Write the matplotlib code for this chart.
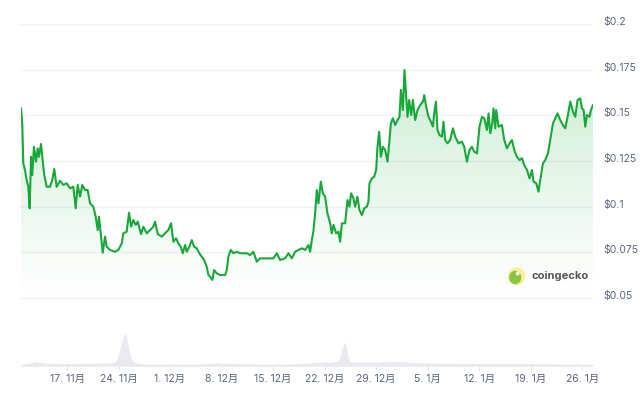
import numpy as np
import pandas as pd
import matplotlib
matplotlib.use('Agg')
import matplotlib.pyplot as plt
import matplotlib.dates as mdates
from matplotlib.patches import Ellipse
from matplotlib.transforms import ScaledTranslation

plt.rcParams['font.family'] = ['Inter', 'Noto Sans CJK JP', 'DejaVu Sans']

# ---------------- data ----------------
ref_date = pd.Timestamp('2024-11-17')

price_days = [
    -6.25, -6.08, -5.94, -5.71, -5.48, -5.26, -5.07, -4.89, -4.72, -4.49,
    -4.21, -3.98, -3.81, -3.53, -3.36, -3.09, -2.76, -2.31, -2.00, -1.73,
    -1.40, -0.95, -0.50, -0.04, 0.41, 0.86, 1.18, 1.45, 1.77, 2.08,
    2.45, 2.81, 3.13, 3.57, 3.90, 4.17, 4.35, 4.62, 4.85, 5.17,
    5.40, 5.84, 6.52, 6.97, 7.44, 7.65, 8.11, 8.43, 8.70, 9.01,
    9.34, 9.61, 10.06, 10.37, 10.83, 11.28, 11.73, 11.96, 12.33, 12.87,
    13.32, 13.77, 14.14, 14.45, 14.82, 15.13, 15.45, 15.73, 16.04, 16.27,
    16.62, 16.95, 17.26, 17.63, 17.98, 18.31, 18.62, 18.99, 19.21, 19.44,
    19.75, 19.98, 20.35, 20.80, 21.48, 21.71, 21.92, 22.25, 22.60, 23.07,
    23.52, 23.96, 24.43, 24.87, 25.32, 25.78, 26.23, 27.14, 28.04, 28.50,
    28.95, 29.63, 30.08, 30.54, 30.99, 31.44, 31.90, 32.35, 32.80, 33.03,
    33.26, 33.48, 33.71, 33.94, 34.16, 34.48, 34.76, 35.07, 35.38, 35.75,
    35.98, 36.20, 36.56, 36.88, 37.11, 37.34, 37.79, 38.10, 38.37, 38.60,
    38.92, 39.15, 39.46, 39.73, 40.06, 40.37, 40.74, 40.95, 41.09, 41.42,
    41.73, 42.00, 42.18, 42.41, 42.64, 42.91, 43.22, 43.54, 43.81, 44.00,
    44.27, 44.58, 44.90, 45.17, 45.36, 45.63, 45.85, 46.08, 46.26, 46.49,
    46.76, 46.99, 47.30, 47.62, 47.98, 48.35, 48.53, 48.80, 49.11, 49.44,
    49.71, 49.88, 50.12, 50.33, 50.61, 50.93, 51.15, 51.38, 51.69, 52.06,
    52.43, 52.74, 53.19, 53.65, 53.96, 54.33, 54.68, 55.01, 55.32, 55.69,
    56.04, 56.37, 56.68, 57.05, 57.27, 57.50, 57.77, 57.95, 58.18, 58.31,
    58.63, 59.09, 59.40, 59.77, 60.12, 60.45, 60.76, 61.13, 61.48, 61.81,
    62.12, 62.49, 62.84, 63.17, 63.38, 63.75, 64.06, 64.29, 64.66, 64.97,
    65.34, 65.65, 66.02, 66.33, 66.64, 67.01, 67.38, 67.69, 68.01, 68.37,
    68.74, 69.05, 69.36, 69.73, 69.96, 70.18, 70.41, 70.64, 70.99, 71.18,
    71.46,
]

price_values = [
    0.1538, 0.1458, 0.1239, 0.1201, 0.1146, 0.1109, 0.0991, 0.1273, 0.1173, 0.1328,
    0.1246, 0.1319, 0.1273, 0.1343, 0.1273, 0.1173, 0.1109, 0.1109, 0.1146, 0.1206,
    0.1109, 0.1142, 0.1119, 0.1128, 0.1100, 0.1109, 0.0991, 0.1119, 0.1055, 0.1119,
    0.1091, 0.1091, 0.1018, 0.1000, 0.0945, 0.0872, 0.0945, 0.0836, 0.0748, 0.0836,
    0.0781, 0.0763, 0.0753, 0.0763, 0.0799, 0.0854, 0.0863, 0.0967, 0.0890, 0.0927,
    0.0900, 0.0918, 0.0850, 0.0890, 0.0854, 0.0872, 0.0890, 0.0918, 0.0850, 0.0836,
    0.0854, 0.0872, 0.0909, 0.0808, 0.0827, 0.0799, 0.0781, 0.0745, 0.0790, 0.0753,
    0.0781, 0.0817, 0.0781, 0.0772, 0.0745, 0.0726, 0.0708, 0.0671, 0.0626, 0.0617,
    0.0599, 0.0653, 0.0635, 0.0626, 0.0626, 0.0653, 0.0726, 0.0763, 0.0745, 0.0753,
    0.0745, 0.0745, 0.0745, 0.0735, 0.0753, 0.0699, 0.0717, 0.0717, 0.0717, 0.0745,
    0.0708, 0.0717, 0.0745, 0.0717, 0.0753, 0.0763, 0.0772, 0.0763, 0.0790, 0.0753,
    0.0817, 0.0867, 0.0964, 0.1091, 0.1018, 0.1137, 0.1073, 0.1055, 0.0964, 0.0909,
    0.0854, 0.0900, 0.0854, 0.0863, 0.0808, 0.0909, 0.0909, 0.1036, 0.1000, 0.1073,
    0.1046, 0.1000, 0.1055, 0.0982, 0.0954, 0.0991, 0.1000, 0.1027, 0.1128, 0.1155,
    0.1164, 0.1201, 0.1328, 0.1410, 0.1273, 0.1328, 0.1310, 0.1246, 0.1365, 0.1456,
    0.1484, 0.1447, 0.1474, 0.1492, 0.1639, 0.1529, 0.1748, 0.1602, 0.1492, 0.1584,
    0.1502, 0.1584, 0.1474, 0.1529, 0.1556, 0.1575, 0.1611, 0.1547, 0.1492, 0.1465,
    0.1438, 0.1511, 0.1575, 0.1420, 0.1392, 0.1383, 0.1465, 0.1365, 0.1347, 0.1365,
    0.1429, 0.1383, 0.1347, 0.1356, 0.1328, 0.1246, 0.1310, 0.1328, 0.1301, 0.1292,
    0.1438, 0.1492, 0.1484, 0.1420, 0.1511, 0.1402, 0.1456, 0.1538, 0.1429, 0.1529,
    0.1438, 0.1447, 0.1365, 0.1319, 0.1347, 0.1365, 0.1310, 0.1273, 0.1255, 0.1265,
    0.1228, 0.1201, 0.1155, 0.1201, 0.1137, 0.1128, 0.1082, 0.1146, 0.1237, 0.1255,
    0.1292, 0.1365, 0.1456, 0.1484, 0.1511, 0.1474, 0.1447, 0.1429, 0.1492, 0.1575,
    0.1520, 0.1492, 0.1584, 0.1593, 0.1538, 0.1529, 0.1438, 0.1502, 0.1492, 0.1529,
    0.1556,
]

volume_days = [
    -6.25, -5.03, -4.20, -3.00, -0.95, 1.77, 4.49, 5.84, 6.52, 6.80,
    7.07, 7.34, 7.61, 7.88, 8.09, 8.29, 8.56, 8.84, 9.38, 10.60,
    12.64, 18.08, 20.12, 22.16, 26.23, 30.31, 33.03, 34.39, 35.75, 36.84,
    37.11, 37.38, 37.65, 37.93, 38.20, 38.47, 39.83, 42.54, 45.26, 46.60,
    49.34, 53.42, 58.86, 63.04, 67.01, 71.46,
]
volume_values = [  # millions USD (approx.)
    2.0, 3.0, 4.5, 3.0, 2.5, 2.5, 3.0, 3.0, 4.0, 7.0,
    14.0, 22.0, 28.0, 33.0, 29.0, 22.0, 12.0, 5.0, 3.0, 2.0,
    2.0, 2.0, 3.0, 2.5, 2.0, 2.0, 3.0, 4.0, 3.5, 5.0,
    9.0, 17.0, 24.0, 20.0, 9.0, 4.0, 4.0, 4.0, 4.5, 3.5,
    3.0, 2.5, 2.5, 2.5, 2.0, 2.0,
]

tick_days = [0, 7, 14, 21, 28, 35, 42, 49, 56, 63, 70]
tick_labels = ['17. 11月', '24. 11月', '1. 12月', '8. 12月', '15. 12月', '22. 12月',
               '29. 12月', '5. 1月', '12. 1月', '19. 1月', '26. 1月']
y_ticks = [0.05, 0.075, 0.1, 0.125, 0.15, 0.175, 0.2]
y_tick_labels = ['$0.05', '$0.075', '$0.1', '$0.125', '$0.15', '$0.175', '$0.2']

# ---------------- styling ----------------
LINE = '#18a83a'
TEXT = '#58667e'
GRID = '#f0f0f0'

W, H = 640, 395
fig = plt.figure(figsize=(W / 100, H / 100), dpi=100)
left_px, right_px, top_px, base_px = 21, 593, 24, 366
ax = fig.add_axes([left_px / W, (H - base_px) / H,
                   (right_px - left_px) / W, (base_px - top_px) / H])

pdates = ref_date + pd.to_timedelta(price_days, unit='D')
vdates = ref_date + pd.to_timedelta(volume_days, unit='D')
tdates = ref_date + pd.to_timedelta(tick_days, unit='D')

# volume (secondary axis, drawn beneath)
axv = ax.twinx()
axv.set_ylim(0, base_px - top_px)
axv.fill_between(vdates, volume_values, 0, color='#e8eaef', lw=0, zorder=1)
axv.set_yticks([])
for s in axv.spines.values():
    s.set_visible(False)
ax.set_zorder(axv.get_zorder() + 1)
ax.patch.set_visible(False)

px_per_unit = (298 - 24) / 0.15
ymin = 0.05 - (base_px - 298) / px_per_unit
ymax = 0.2

# gradient fill under the price line
poly = ax.fill_between(pdates, price_values, ymin, color='none', lw=0)
xn0, xn1 = mdates.date2num(pdates[0]), mdates.date2num(pdates[-1])
ys = np.linspace(ymin, ymax, 400)
alpha = np.clip((ys - 0.05) / (0.175 - 0.05), 0, 1.2) * 0.21
rgba = np.zeros((400, 1, 4))
c = matplotlib.colors.to_rgb(LINE)
rgba[..., 0], rgba[..., 1], rgba[..., 2] = c
rgba[:, 0, 3] = alpha
img = ax.imshow(rgba, extent=[xn0, xn1, ymin, ymax], origin='lower',
                aspect='auto', zorder=1, interpolation='bilinear')
img.set_clip_path(poly.get_paths()[0], transform=ax.transData)

ax.plot(pdates, price_values, color=LINE, lw=1.5, zorder=3,
        solid_joinstyle='round')

ax.set_xlim(pdates[0], pdates[-1])
axv.set_xlim(pdates[0], pdates[-1])
ax.set_ylim(ymin, ymax)

# grid and axes
ax.set_yticks(y_ticks)
ax.set_yticklabels(y_tick_labels)
ax.yaxis.tick_right()
ax.grid(axis='y', color=GRID, lw=1)
ax.set_axisbelow(True)
ax.tick_params(axis='y', which='both', left=False, right=False,
               labelleft=False, labelright=True,
               length=0, pad=7.5, labelsize=7.5, labelcolor=TEXT)
off = ScaledTranslation(0, 0.03, fig.dpi_scale_trans)
for t in ax.yaxis.get_major_ticks():
    t.label2.set_transform(t.label2.get_transform() + off)

ax.set_xticks(tdates)
ax.set_xticklabels(tick_labels)
ax.tick_params(axis='x', length=3, width=0.8, color='#e2e4e8', pad=3,
               labelsize=7.5, labelcolor=TEXT)
for s in ['top', 'left', 'right']:
    ax.spines[s].set_visible(False)
ax.spines['bottom'].set_color('#eeeeee')
ax.spines['bottom'].set_linewidth(0.8)

# coingecko watermark
cx, cy = 516.7 / W, 1 - 276 / H
fig.add_artist(Ellipse((cx, cy), 16 / W, 16 / H, color='#f7f09c', zorder=5))
fig.add_artist(Ellipse((cx - 1.5 / W, cy - 1.5 / H), 11 / W, 12 / H,
                       color='#8bc53f', zorder=6))
fig.add_artist(Ellipse((cx + 1 / W, cy + 2.5 / H), 2.6 / W, 2.6 / H,
                       color='white', zorder=7))
fig.text(531 / W, cy, 'coingecko', fontsize=8, fontweight='bold',
         color='#555555', va='center', ha='left', zorder=8)

fig.savefig('out.png', dpi=100)
